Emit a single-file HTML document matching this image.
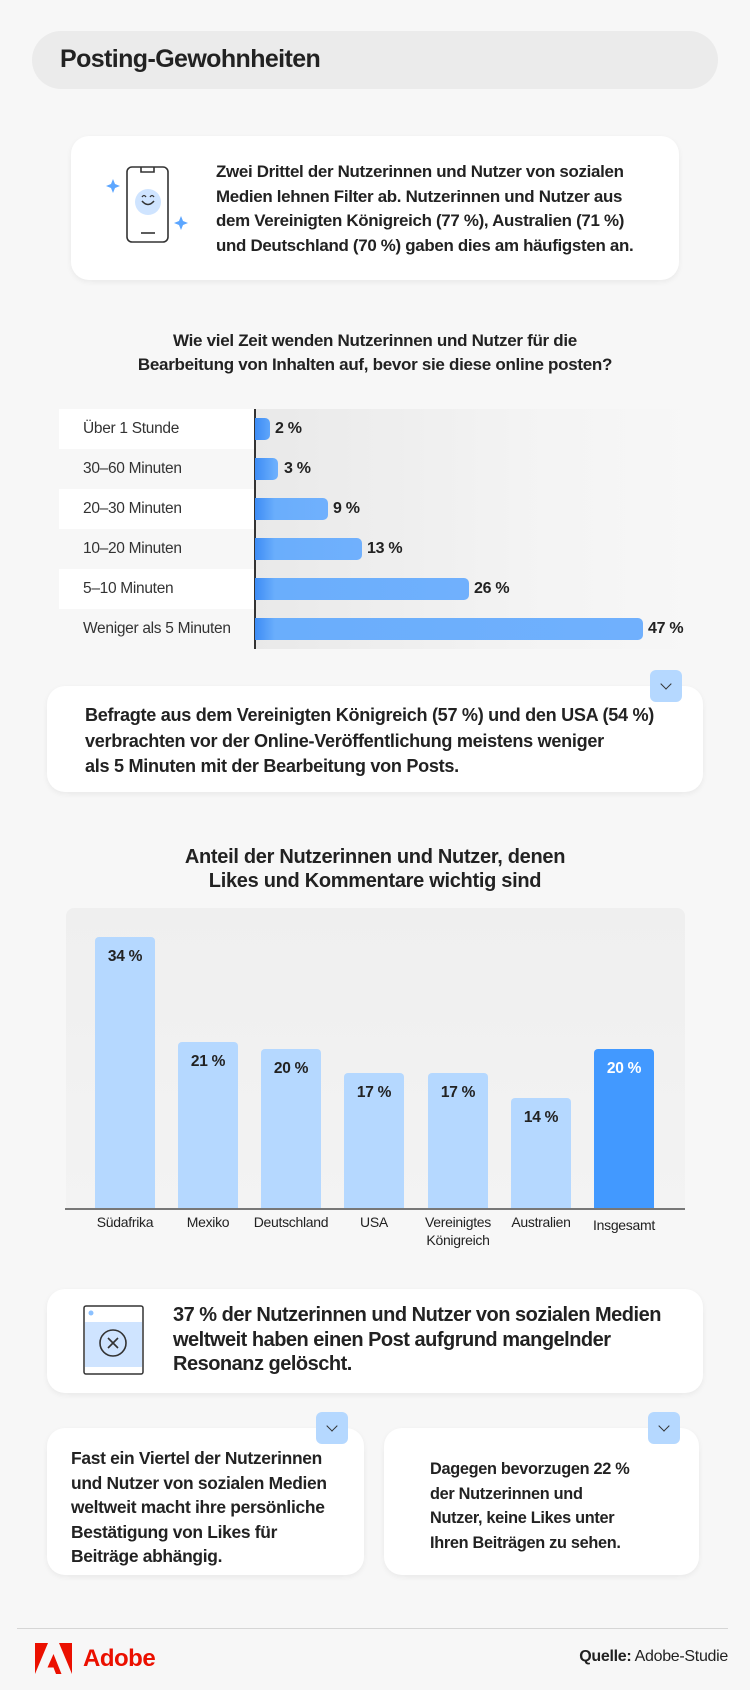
<!DOCTYPE html>
<html><head><meta charset="utf-8"><style>
*{margin:0;padding:0;box-sizing:border-box}
body{width:750px;height:1690px;background:#f7f7f7;font-family:"Liberation Sans",sans-serif;color:#222;position:relative;overflow:hidden}
.a{position:absolute}
.card{position:absolute;background:#fff;border-radius:18px;box-shadow:0 2px 6px rgba(0,0,0,0.06)}
.t{position:absolute;white-space:nowrap;font-weight:bold;font-size:16px;letter-spacing:-0.3px;line-height:20px}
.chev{position:absolute;width:32px;height:32px;background:#b5d8ff;border-radius:6px}
.chev:after{content:"";position:absolute;left:12px;top:10px;width:7px;height:7px;border-right:1.5px solid #333;border-bottom:1.5px solid #333;transform:rotate(45deg)}
.lab{position:absolute;left:83px;font-size:15.5px;letter-spacing:-0.3px;line-height:20px;color:#333}
.hb{position:absolute;left:255px;height:22px;border-radius:0 5px 5px 0;background:linear-gradient(90deg,#3d8cf5,#6aaefc 20px,#70b0fd)}
.hv{position:absolute;font-size:16px;font-weight:bold;letter-spacing:-0.3px;line-height:20px}
.vb{position:absolute;width:60px;background:#b5d8ff;border-radius:4px 4px 0 0;bottom:481px;text-align:center;font-weight:bold;font-size:15.5px;padding-top:11px;letter-spacing:-0.3px}
.cl{position:absolute;width:90px;text-align:center;font-size:14px;letter-spacing:-0.3px;line-height:18px;top:1213px}
</style></head><body>
<div class="a" style="left:32px;top:31px;width:686px;height:58px;background:#ebebeb;border-radius:29px"></div>
<div class="a" style="left:60px;top:45px;font-size:25px;font-weight:bold;letter-spacing:-0.6px">Posting-Gewohnheiten</div>

<div class="card" style="left:71px;top:136px;width:608px;height:144px"></div>
<svg class="a" style="left:100px;top:160px" width="100" height="90" viewBox="100 160 100 90">
<rect x="127" y="167" width="41" height="75" rx="5" fill="#fff" stroke="#333" stroke-width="1.6"/>
<path d="M141 167 v5 h13 v-5" fill="none" stroke="#333" stroke-width="1.6"/>
<circle cx="148" cy="202" r="13" fill="#cfe4ff"/>
<path d="M142 201 q6 7 12 0" fill="none" stroke="#333" stroke-width="1.5"/>
<path d="M142 197 q2 -3 4 0 M150 197 q2 -3 4 0" fill="none" stroke="#333" stroke-width="1.3"/>
<line x1="141" y1="233" x2="155" y2="233" stroke="#333" stroke-width="1.6"/>
<path d="M113 179 l2 5 5 2 -5 2 -2 5 -2 -5 -5 -2 5 -2z" fill="#5ca6ff"/>
<path d="M181 216 l2 5 5 2 -5 2 -2 5 -2 -5 -5 -2 5 -2z" fill="#5ca6ff"/>
</svg>
<div class="t" style="left:216px;top:160px;line-height:24.6px;font-size:16.9px">Zwei Drittel der Nutzerinnen und Nutzer von sozialen<br>Medien lehnen Filter ab. Nutzerinnen und Nutzer aus<br>dem Vereinigten Königreich (77 %), Australien (71 %)<br>und Deutschland (70 %) gaben dies am häufigsten an.</div>

<div class="t" style="left:0;width:750px;text-align:center;top:329px;font-size:17px;line-height:24px">Wie viel Zeit wenden Nutzerinnen und Nutzer für die<br>Bearbeitung von Inhalten auf, bevor sie diese online posten?</div>

<div class="a" style="left:255px;top:409px;width:437px;height:240px;background:linear-gradient(90deg,#e9e9e9,#f3f3f3 60%,#f7f7f7)"></div>
<div class="a" style="left:59px;top:409px;width:195px;height:40px;background:#fff"></div>
<div class="a" style="left:59px;top:489px;width:195px;height:40px;background:#fff"></div>
<div class="a" style="left:59px;top:569px;width:195px;height:40px;background:#fff"></div>
<div class="a" style="left:254px;top:409px;width:1.5px;height:240px;background:#333"></div>
<div class="lab" style="top:419px">Über 1 Stunde</div>
<div class="lab" style="top:459px">30–60 Minuten</div>
<div class="lab" style="top:499px">20–30 Minuten</div>
<div class="lab" style="top:539px">10–20 Minuten</div>
<div class="lab" style="top:579px">5–10 Minuten</div>
<div class="lab" style="top:619px">Weniger als 5 Minuten</div>
<div class="hb" style="top:418px;width:15px"></div><div class="hv" style="top:419px;left:275px">2 %</div>
<div class="hb" style="top:458px;width:23px"></div><div class="hv" style="top:459px;left:284px">3 %</div>
<div class="hb" style="top:498px;width:73px"></div><div class="hv" style="top:499px;left:333px">9 %</div>
<div class="hb" style="top:538px;width:107px"></div><div class="hv" style="top:539px;left:367px">13 %</div>
<div class="hb" style="top:578px;width:214px"></div><div class="hv" style="top:579px;left:474px">26 %</div>
<div class="hb" style="top:618px;width:388px"></div><div class="hv" style="top:619px;left:648px">47 %</div>

<div class="card" style="left:47px;top:686px;width:656px;height:106px"></div>
<div class="chev" style="left:650px;top:670px"></div>
<div class="t" style="left:85px;top:703px;line-height:25.5px;font-size:18.1px">Befragte aus dem Vereinigten Königreich (57 %) und den USA (54 %)<br>verbrachten vor der Online-Veröffentlichung meistens weniger<br>als 5 Minuten mit der Bearbeitung von Posts.</div>

<div class="t" style="left:0;width:750px;text-align:center;top:845px;font-size:20px;line-height:24px">Anteil der Nutzerinnen und Nutzer, denen<br>Likes und Kommentare wichtig sind</div>
<div class="a" style="left:66px;top:908px;width:619px;height:301px;background:linear-gradient(180deg,#efefef,#f3f3f3);border-radius:8px 8px 0 0"></div>
<div class="vb" style="left:95px;height:272px">34 %</div>
<div class="vb" style="left:178px;height:167px">21 %</div>
<div class="vb" style="left:261px;height:160px">20 %</div>
<div class="vb" style="left:344px;height:136px">17 %</div>
<div class="vb" style="left:428px;height:136px">17 %</div>
<div class="vb" style="left:511px;height:111px">14 %</div>
<div class="vb" style="left:594px;height:160px;background:#4299ff;color:#fff">20 %</div>
<div class="a" style="left:65px;top:1208px;width:620px;height:2px;background:#777"></div>
<div class="cl" style="left:80px">Südafrika</div>
<div class="cl" style="left:163px">Mexiko</div>
<div class="cl" style="left:246px">Deutschland</div>
<div class="cl" style="left:329px">USA</div>
<div class="cl" style="left:413px">Vereinigtes<br>Königreich</div>
<div class="cl" style="left:496px">Australien</div>
<div class="cl" style="left:579px;top:1216px">Insgesamt</div>

<div class="card" style="left:47px;top:1289px;width:656px;height:104px"></div>
<svg class="a" style="left:82px;top:1304px" width="64" height="72" viewBox="82 1304 64 72">
<rect x="84" y="1306" width="59" height="68" rx="2" fill="#fff" stroke="#333" stroke-width="1.5"/>
<rect x="85" y="1322" width="57" height="45" fill="#cfe4ff"/>
<circle cx="91" cy="1313" r="2.5" fill="#8cc1ff"/>
<circle cx="113" cy="1343" r="13" fill="none" stroke="#333" stroke-width="1.6"/>
<path d="M108 1338 l10 10 M118 1338 l-10 10" stroke="#333" stroke-width="1.6"/>
</svg>
<div class="t" style="left:173px;top:1303px;line-height:24.5px;font-size:20px;letter-spacing:-0.5px">37 % der Nutzerinnen und Nutzer von sozialen Medien<br>weltweit haben einen Post aufgrund mangelnder<br>Resonanz gelöscht.</div>

<div class="card" style="left:47px;top:1428px;width:317px;height:147px"></div>
<div class="chev" style="left:316px;top:1412px"></div>
<div class="t" style="left:71px;top:1446px;line-height:24.5px;font-size:17.4px">Fast ein Viertel der Nutzerinnen<br>und Nutzer von sozialen Medien<br>weltweit macht ihre persönliche<br>Bestätigung von Likes für<br>Beiträge abhängig.</div>
<div class="card" style="left:384px;top:1428px;width:315px;height:147px"></div>
<div class="chev" style="left:648px;top:1412px"></div>
<div class="t" style="left:430px;top:1457px;line-height:24.5px;font-size:16.3px">Dagegen bevorzugen 22 %<br>der Nutzerinnen und<br>Nutzer, keine Likes unter<br>Ihren Beiträgen zu sehen.</div>

<div class="a" style="left:17px;top:1628px;width:711px;height:1px;background:#d6d6d6"></div>
<svg class="a" style="left:35px;top:1643px" width="38" height="32" viewBox="0 0 38 32">
<path d="M0 0 H13 L0 31Z M24 0 H37 V31Z M18.5 11 L26.5 31 H21 L18.5 24.5 H12.5 L18.5 11Z" fill="#eb1000"/>
</svg>
<div class="a" style="left:83px;top:1645px;font-size:24px;font-weight:bold;color:#eb1000;letter-spacing:-0.5px">Adobe</div>
<div class="a" style="right:22px;top:1648px;font-size:16px;letter-spacing:-0.3px"><b>Quelle:</b> Adobe-Studie</div>
</body></html>
